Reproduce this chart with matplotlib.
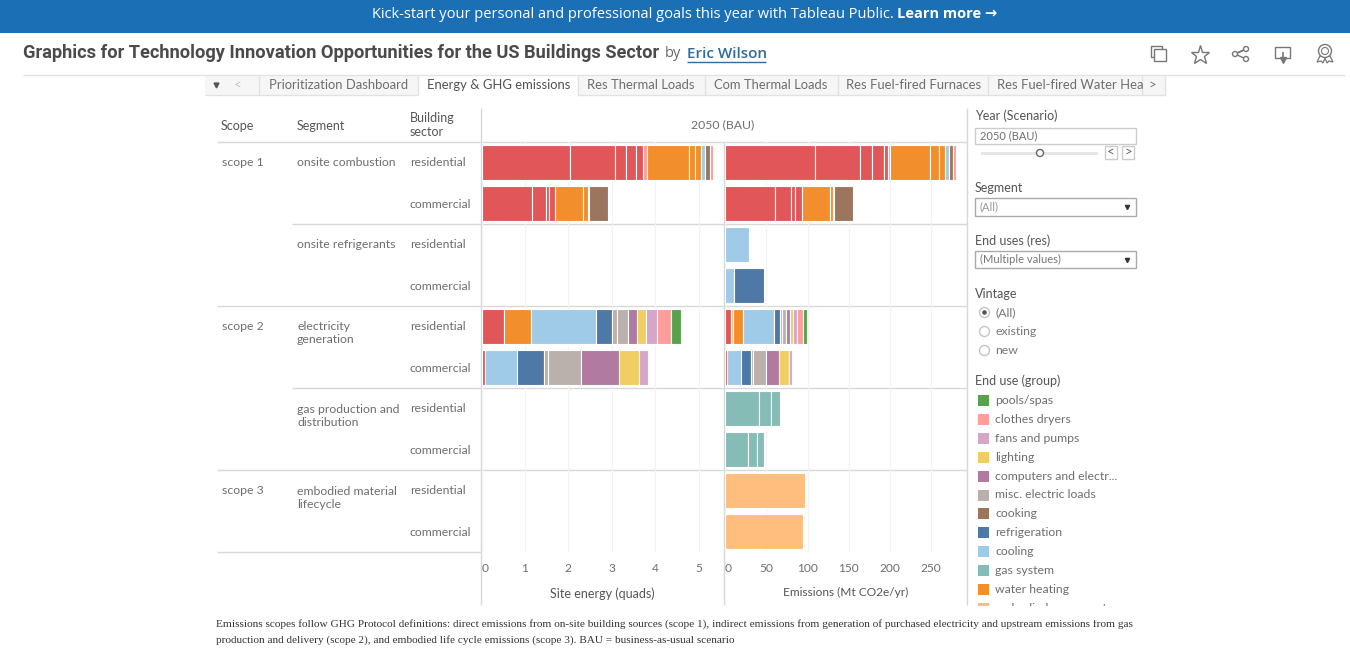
import matplotlib
matplotlib.use("Agg")
import matplotlib.pyplot as plt
from matplotlib.patches import Rectangle, Circle, Polygon
from matplotlib.ticker import FixedLocator

# ---------- data ----------
sectors = ["residential", "commercial"]
scopes = ["scope 1", "scope 2", "scope 3"]
segments = ["onsite combustion", "onsite refrigerants", "electricity\ngeneration",
            "gas production and\ndistribution", "embodied material\nlifecycle"]
legend_labels = ["pools/spas", "clothes dryers", "fans and pumps", "lighting",
                 "computers and electr...", "misc. electric loads", "cooking", "refrigeration",
                 "cooling", "gas system", "water heating", "embodied new const"]
tab_labels = ["Prioritization Dashboard", "Energy & GHG emissions", "Res Thermal Loads",
              "Com Thermal Loads", "Res Fuel-fired Furnaces", "Res Fuel-fired Water Hea"]
energy_ticks = [0, 1, 2, 3, 4, 5]
emission_ticks = [0, 50, 100, 150, 200, 250]

use_comb_res = ["heat", "heat", "heat", "heat", "heat", "dry", "water", "water", "water", "cool", "cook", "dry"]
energy_comb_res = [2.04, 1.04, 0.24, 0.25, 0.16, 0.08, 0.96, 0.15, 0.14, 0.08, 0.12, 0.07]
emis_comb_res = [109, 54.5, 15, 14.5, 5, 2, 49, 10, 8, 4.5, 5, 3.6]
use_comb_com = ["heat", "heat", "heat", "heat", "water", "water", "pale", "cook"]
energy_comb_com = [1.16, 0.33, 0.07, 0.14, 0.63, 0.115, 0.04, 0.42]
emis_comb_com = [61, 19, 5, 8.5, 33.5, 3.5, 2, 23]
use_ref_res = ["cool"]
emis_ref_res = [29]
use_ref_com = ["cool", "refr"]
emis_ref_com = [11, 36]
use_elec_res = ["heat", "water", "cool", "refr", "misc", "misc", "comp", "light", "fans", "dry", "pool"]
energy_elec_res = [0.52, 0.62, 1.49, 0.38, 0.115, 0.26, 0.20, 0.20, 0.26, 0.31, 0.24]
use_elec_res_em = ["heat", "wpale", "water", "cool", "refr", "misc", "misc", "comp", "light", "fans", "dry", "pool"]
emis_elec_res = [7, 2.4, 12.5, 38, 7, 2, 5, 4.4, 4, 5.2, 6.5, 5.2]
use_elec_com = ["heat", "cool", "refr", "misc", "misc", "comp", "light", "fans"]
energy_elec_com = [0.09, 0.72, 0.62, 0.11, 0.75, 0.87, 0.46, 0.215]
emis_elec_com = [2, 17.4, 12, 2, 16.5, 16, 11.3, 3.6]
use_gas = ["gas", "gas", "gas"]
emis_gas_res = [41, 15, 10.5]
emis_gas_com = [27.5, 11, 9]
use_emb = ["emb"]
emis_emb_res = [97]
emis_emb_com = [94.5]

colors = {"heat": "#E15759", "water": "#F28E2B", "cool": "#A0CBE8", "refr": "#4E79A7",
          "cook": "#9C755F", "misc": "#BAB0AC", "comp": "#B07AA1", "light": "#F1CE63",
          "fans": "#D4A6C8", "dry": "#FF9D9A", "pool": "#59A14F", "gas": "#86BCB6",
          "emb": "#FFBE7D", "pale": "#F4F8FB", "wpale": "#FFBE7D"}
legend_keys = ["pool", "dry", "fans", "light", "comp", "misc", "cook", "refr", "cool", "gas", "water", "emb"]

energy_rows = [(use_comb_res, energy_comb_res), (use_comb_com, energy_comb_com), None, None,
               (use_elec_res, energy_elec_res), (use_elec_com, energy_elec_com), None, None, None, None]
emis_rows = [(use_comb_res, emis_comb_res), (use_comb_com, emis_comb_com),
             (use_ref_res, emis_ref_res), (use_ref_com, emis_ref_com),
             (use_elec_res_em, emis_elec_res), (use_elec_com, emis_elec_com),
             (use_gas, emis_gas_res), (use_gas, emis_gas_com),
             (use_emb, emis_emb_res), (use_emb, emis_emb_com)]

# ---------- page ----------
W, H = 1350, 672
plt.rcParams["font.family"] = ["Lato", "DejaVu Sans"]
TXT = "#6e6e6e"
LINE = "#d8d8d8"
fig = plt.figure(figsize=(13.5, 6.72), dpi=100, facecolor="white")
bg = fig.add_axes([0, 0, 1, 1])
bg.set_xlim(0, W); bg.set_ylim(H, 0); bg.axis("off")

def T(x, y, s, size=8.8, color=TXT, ha="left", va="center", **kw):
    return bg.text(x, y, s, fontsize=size, color=color, ha=ha, va=va, **kw)

def L(xs, ys, color=LINE, lw=1.0, **kw):
    bg.plot(xs, ys, color=color, lw=lw, solid_capstyle="butt", **kw)

def R(x, y, w, h, fc="white", ec="none", lw=1.0, z=1):
    bg.add_patch(Rectangle((x, y), w, h, fc=fc, ec=ec, lw=lw, zorder=z))

# banner and title
R(0, 0, W, 33, fc="#1B6FB4")
T(372, 14.5, "Kick-start your personal and professional goals this year with Tableau Public. ",
  size=10.5, color="white", family=["Open Sans", "DejaVu Sans"])
T(897, 14.5, "Learn more \u2192", size=10.5, color="white", weight="bold", family=["Open Sans", "DejaVu Sans"])
T(23, 53.5, "Graphics for Technology Innovation Opportunities for the US Buildings Sector", size=13.15,
  color="#4a4a4a", weight="bold", family=["Roboto", "DejaVu Sans"])
T(665, 53.5, "by", size=10.5, color="#666666", family=["Open Sans", "DejaVu Sans"])
T(687, 53.5, "Eric Wilson", size=11, color="#2E6C9E", weight="semibold", family=["Open Sans", "DejaVu Sans"])
L([687, 766], [62, 62], color="#2E6C9E", lw=1)
L([23, 1345], [74.5, 74.5], color="#e3e3e3")

# toolbar icons
IC = "#777777"
R(1151, 46, 11, 11, fc="white", ec=IC, z=2)
R(1154, 49, 12, 12, fc="white", ec=IC, z=3)
bg.plot([1200], [54.5], marker="*", ms=14, mfc="white", mec=IC, mew=1.0)
bg.plot([1235, 1246, 1235], [54, 49, 54], color=IC, lw=1)
bg.plot([1235, 1246], [54, 59], color=IC, lw=1)
for cx, cy in [(1235, 54), (1246, 49), (1246, 59)]:
    bg.add_patch(Circle((cx, cy), 2.5, fc="white", ec=IC, lw=1, zorder=3))
R(1275, 47, 15, 11, fc="white", ec=IC)
L([1282.5, 1282.5], [52, 60], color=IC, lw=1.2)
bg.plot([1282.5], [60], marker="v", ms=4, color=IC)
bg.add_patch(Circle((1325, 51), 6.5, fc="white", ec=IC, lw=1, zorder=3))
bg.add_patch(Circle((1325, 51), 3.5, fc="white", ec=IC, lw=0.8, zorder=3))
bg.add_patch(Polygon([[1320, 56], [1317, 62], [1321, 61], [1323, 63], [1325, 58], [1327, 63], [1329, 61],
                      [1333, 62], [1330, 56]], closed=True, fc="white", ec=IC, lw=0.9, zorder=2))

# tab bar
R(205, 75, 960, 20, fc="#f6f6f6")
R(418, 75, 160, 21, fc="white")
L([205, 418], [95, 95], color="#e2e2e2"); L([578, 1165], [95, 95], color="#e2e2e2")
for xp in [258.5, 418, 578, 705, 838, 988, 1142, 1165]:
    L([xp, xp], [76, 95], color="#e2e2e2")
bg.plot([216], [84.5], marker="v", ms=3.5, color="#555555")
T(238, 84.5, "<", size=9.5, color="#c4c4c4", ha="center")
T(1152, 84.5, ">", size=9.5, color="#777777", ha="center")
for xp, s in zip([269, 427, 587, 714, 846, 997], tab_labels):
    T(xp, 85, s, size=9.4, color="#505050" if xp == 427 else TXT)

# table headers
for xp, s in [(221, "Scope"), (297, "Segment")]:
    T(xp, 125.5, s, size=9, color="#555555")
T(410, 125.5, "Building\nsector", size=9, color="#555555", linespacing=1.2)
T(723, 125, "2050 (BAU)", size=8.8, ha="center")

# structure
top, rh = 142.0, 41.0
L([217, 967], [top, top])
for i, x0 in [(2, 292), (4, 217), (6, 292), (8, 217)]:
    yy = top + rh * i
    L([x0, 967], [yy, yy])
L([217, 481], [top + rh * 10] * 2)
for xp, y0 in [(481, 108), (724, 142), (967, 108)]:
    L([xp, xp], [y0, 605], zorder=5)

for i, s in zip([0, 4, 8], scopes):
    T(222, top + rh * i + 20, s)
for i, s in zip([0, 2], segments[:2]):
    T(297, top + rh * i + 20, s)
T(297, 333, segments[2], linespacing=1.3)
T(297, 416, segments[3], linespacing=1.3)
T(297, 498, segments[4], linespacing=1.3)
for i in range(10):
    T(410, top + rh * i + 21, sectors[i % 2])

# panes
def pane(x0, x1, xmax, rows, ticks, label, label_size):
    ax = fig.add_axes([x0 / W, 1 - (top + rh * 10) / H, (x1 - x0) / W, rh * 10 / H])
    ax.patch.set_alpha(0)
    for side in ax.spines.values():
        side.set_visible(False)
    ax.set_xlim(0, xmax)
    ax.set_ylim(10, 0)
    ax.xaxis.set_major_locator(FixedLocator(ticks))
    ax.set_yticks([])
    ax.grid(axis="x", color="#f3f3f3", lw=0.8)
    ax.set_axisbelow(True)
    ax.tick_params(axis="x", length=0, pad=8, labelsize=8.6, labelcolor=TXT)
    ax.set_xlabel(label, fontsize=label_size, color="#555555", labelpad=9.5)
    for i, row in enumerate(rows):
        if row is None:
            continue
        left = 0
        for key, v in zip(*row):
            ax.barh(i + 0.5, v, left=left, height=0.83, color=colors[key], edgecolor="white", linewidth=0.8)
            left += v
    ax.get_xticklabels()[0].set_ha("left")
    return ax

pane(481.5, 723, 241.5 / 43.4, energy_rows, energy_ticks, "Site energy (quads)", 9)
pane(725, 967, 242 / 0.825, emis_rows, emission_ticks, "Emissions (Mt CO2e/yr)", 8.6)

# filters
T(975, 116, "Year (Scenario)", size=9, color="#555555")
R(975, 128, 161, 16, ec="#cccccc")
T(980, 136, "2050 (BAU)", size=8)
R(981, 151.5, 117, 3, fc="#e6e6e6")
bg.add_patch(Circle((1040, 153), 3.5, fc="white", ec="#666666", lw=1, zorder=3))
for xp, s in [(1111, "<"), (1128, ">")]:
    R(xp - 6, 146, 12, 13, ec="#cccccc")
    T(xp, 152, s, size=9.5, ha="center", color="#666666")
T(975, 187.5, "Segment", size=9, color="#555555")
R(975, 198, 161, 18, ec="#aaaaaa")
T(980, 207, "(All)", size=8, color="#999999")
bg.plot([1127], [207], marker="v", ms=3, color="#333333")
T(975, 241, "End uses (res)", size=9, color="#555555")
R(975, 251, 161, 17, ec="#aaaaaa")
T(980, 259.5, "(Multiple values)", size=8, color="#777777")
bg.plot([1127], [259.5], marker="v", ms=3, color="#333333")
T(975, 293.5, "Vintage", size=9, color="#555555")
for yy, s in [(312.5, "(All)"), (331.5, "existing"), (350.5, "new")]:
    bg.add_patch(Circle((984.5, yy), 5, fc="white", ec="#c4c4c4", lw=1, zorder=2))
    T(995, yy, s, color="#777777")
bg.add_patch(Circle((984.5, 312.5), 2.3, fc="#555555", ec="none", zorder=3))
T(975, 381, "End use (group)", size=9, color="#555555")
for i, (k, s) in enumerate(zip(legend_keys, legend_labels)):
    yy = 400.5 + i * 18.9
    R(978, yy - 5.5, 11, 11, fc=colors[k])
    T(995, yy, s, color=TXT)
R(970, 606, 190, 14, z=6)

# footnote
foot1 = "Emissions scopes follow GHG Protocol definitions: direct emissions from on-site building sources (scope 1), indirect emissions from generation of purchased electricity and upstream emissions from gas"
foot2 = "production and delivery (scope 2), and embodied life cycle emissions (scope 3). BAU = business-as-usual scenario"
T(216, 624.5, foot1, size=8.1, color="#333333", family=["Liberation Serif"])
T(216, 640, foot2, size=8.1, color="#333333", family=["Liberation Serif"])

fig.savefig("out.png", dpi=100)
